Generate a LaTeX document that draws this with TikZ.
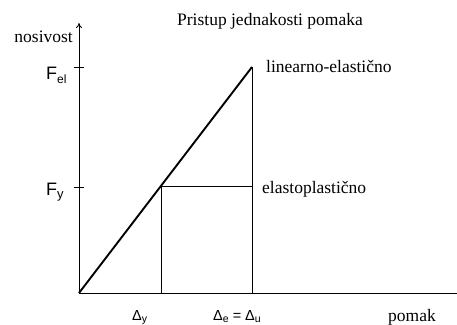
\documentclass[tikz,border=0pt]{standalone}
\usepackage{fontspec}
\setmainfont{Liberation Serif}
\newfontfamily\arialfont{Liberation Sans}
\usetikzlibrary{arrows.meta}
\newcommand{\lowsub}[3]{\raisebox{-#1}{\fontsize{#2}{#2}\selectfont #3}}

\begin{document}
\begin{tikzpicture}[x=1pt,y=1pt,>={To[length=5pt,width=6pt]}]
  \tikzset{
    txt/.style={font=\fontsize{17.5}{20}\selectfont,inner sep=0pt,anchor=base west},
    fsym/.style={font=\arialfont\fontsize{18}{20}\selectfont,inner sep=0pt,anchor=base west},
    dsym/.style={font=\arialfont\fontsize{14.5}{16}\selectfont,inner sep=0pt,anchor=base west},
  }
  \useasboundingbox (-79,-31) rectangle (378,293);
  \coordinate (O) at (0,0);
  \coordinate (ytop) at (0,270);
  \coordinate (xend) at (384,0);
  \coordinate (Fel) at (0,226);
  \coordinate (Fy) at (0,106);
  \coordinate (Pel) at (173,226);
  \coordinate (Py) at (82,106);
  \coordinate (Pu) at (173,106);
  \coordinate (Dy) at (82,0);
  \coordinate (Du) at (173,0);
  % axes and ticks
  \draw[line width=0.8pt,->] (O) -- (ytop);
  \draw[line width=0.8pt,->] (O) -- (xend);
  \draw[line width=0.8pt] ([xshift=-5pt]Fel) -- ([xshift=5pt]Fel);
  \draw[line width=0.8pt] ([xshift=-5pt]Fy) -- ([xshift=5pt]Fy);
  % linear and elastoplastic lines
  \draw[line width=1.9pt] (O) -- (Pel);
  \draw[line width=0.6pt] (Pel) -- (Du);
  \draw[line width=1pt] (Py) -- (Pu);
  \draw[line width=0.6pt] (Py) -- (Dy);
  % labels
  \node[txt,anchor=base] (title) at (191,267) {Pristup jednakosti pomaka};
  \node[txt,anchor=base east] (nos) at (-6,250) {nosivost};
  \node[fsym] (lFel) at (-33,213) {F\lowsub{3.5pt}{12}{el}};
  \node[fsym] (lFy) at (-33,97) {F\lowsub{3pt}{13}{y}};
  \node[txt] (lin) at (187,220) {linearno-elastično};
  \node[txt] (elp) at (183,99) {elastoplastično};
  \node[dsym] (lDy) at (53,-27) {Δ\lowsub{2.5pt}{10.5}{y}};
  \node[dsym] (lDu) at (134,-27) {Δ\lowsub{2.5pt}{10.5}{e} = Δ\lowsub{2.5pt}{10.5}{u}};
  \node[txt] (pom) at (309,-28) {pomak};
\end{tikzpicture}
\end{document}
